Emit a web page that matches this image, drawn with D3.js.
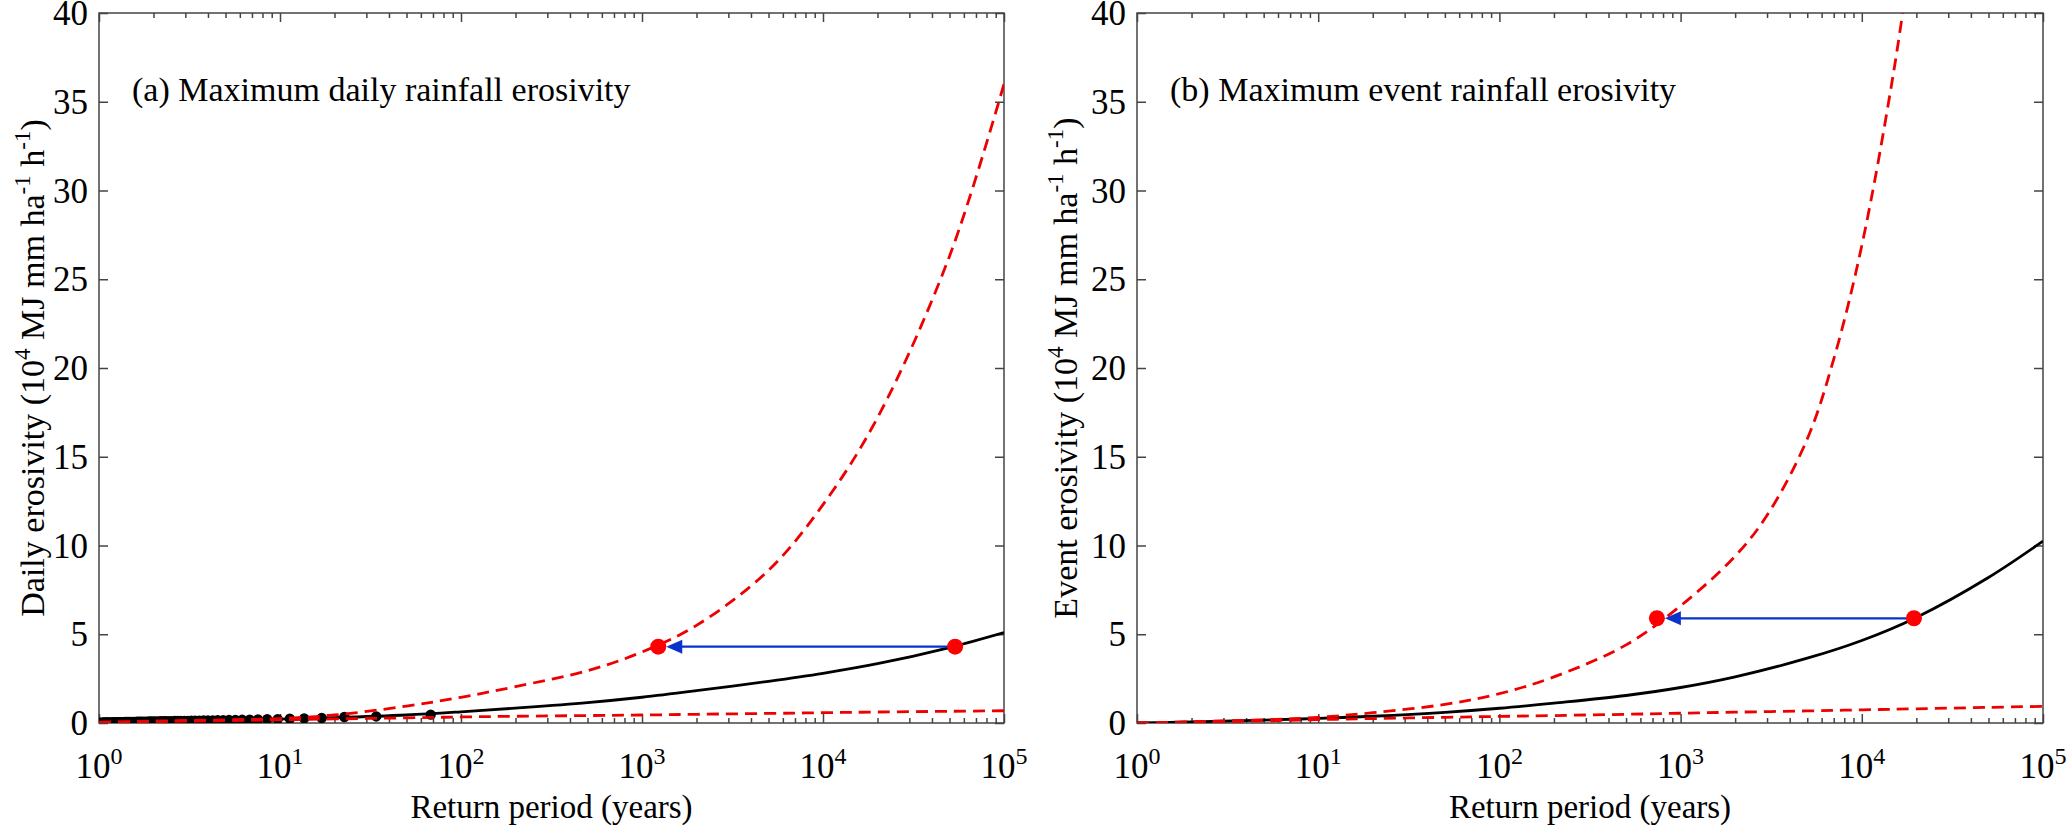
<!DOCTYPE html>
<html>
<head>
<meta charset="utf-8">
<script src="https://cdn.jsdelivr.net/npm/d3@7"></script>
<style>
  body { margin: 0; background: #fff; }
  text { font-family: "Liberation Serif", "Times New Roman", serif; fill: #000; }
</style>
</head>
<body>
<script>
// values (units: 10^4 MJ mm ha-1 h-1)
var yTicks = [0, 5, 10, 15, 20, 25, 30, 35, 40];
var xTickExps = [0, 1, 2, 3, 4, 5];

var fitPeriods = [1, 1.5, 2, 5, 10, 20, 50, 100, 200, 500, 1000, 2000, 5000, 10000, 20000, 50000, 100000];

// (a) daily
var dailyFit   = [0.04, 0.08, 0.11, 0.17, 0.22, 0.30, 0.45, 0.63, 0.84, 1.15, 1.45, 1.82, 2.35, 2.80, 3.34, 4.25, 5.09];
var dailyUpper = [0.05, 0.08, 0.11, 0.18, 0.25, 0.45, 0.95, 1.45, 2.05, 2.95, 4.00, 5.50, 8.60, 12.3, 17.2, 26.3, 36.0];
var dailyLower = [0.03, 0.06, 0.08, 0.13, 0.18, 0.23, 0.29, 0.34, 0.38, 0.42, 0.45, 0.49, 0.54, 0.58, 0.62, 0.66, 0.69];

// observed annual maxima (plotting positions) for (a)
var obsPeriods = [68.00, 34.00, 22.67, 17.00, 13.60, 11.33, 9.71, 8.50, 7.56, 6.80,
  6.18, 5.67, 5.23, 4.86, 4.53, 4.25, 4.00, 3.78, 3.58, 3.40,
  3.24, 3.09, 2.96, 2.83, 2.72, 2.62, 2.52, 2.43, 2.34, 2.27,
  2.19, 2.13, 2.06, 2.00, 1.94, 1.89, 1.84, 1.79, 1.74, 1.70,
  1.66, 1.62, 1.58, 1.55, 1.51, 1.48, 1.45, 1.42, 1.39, 1.36,
  1.33, 1.31, 1.28, 1.26, 1.24, 1.21, 1.19, 1.17, 1.15, 1.13,
  1.11, 1.10, 1.08, 1.06, 1.05, 1.03, 1.01];
var obsDaily = [0.47, 0.37, 0.34, 0.28, 0.26, 0.24, 0.22, 0.21, 0.20, 0.19,
  0.18, 0.17, 0.165, 0.16, 0.155, 0.15, 0.145, 0.14, 0.135, 0.13,
  0.125, 0.12, 0.118, 0.115, 0.112, 0.11, 0.107, 0.104, 0.10, 0.098,
  0.095, 0.092, 0.09, 0.088, 0.085, 0.082, 0.08, 0.078, 0.075, 0.073,
  0.07, 0.068, 0.066, 0.064, 0.062, 0.06, 0.058, 0.056, 0.054, 0.052,
  0.05, 0.048, 0.046, 0.044, 0.042, 0.04, 0.038, 0.036, 0.034, 0.032,
  0.03, 0.028, 0.026, 0.024, 0.022, 0.02, 0.015];

var dailyArrowPeriods = [53700, 1230];
var dailyArrowValues = [4.3, 4.3];

// (b) event
var eventFit   = [0.00, 0.03, 0.06, 0.16, 0.26, 0.38, 0.60, 0.83, 1.12, 1.55, 2.00, 2.60, 3.65, 4.65, 5.95, 8.20, 10.25];
var eventLower = [0.00, 0.03, 0.05, 0.12, 0.19, 0.25, 0.32, 0.37, 0.42, 0.49, 0.55, 0.61, 0.68, 0.74, 0.80, 0.88, 0.94];
var eventUpperPeriods = [1, 1.5, 2, 5, 10, 20, 50, 100, 200, 500, 1000, 2000, 3000, 5000, 7000, 10000, 15000, 20000];
var eventUpper = [0.00, 0.04, 0.07, 0.18, 0.32, 0.58, 1.05, 1.65, 2.60, 4.40, 6.60, 9.40, 11.7, 16.0, 20.5, 26.9, 36.7, 45.5];

var eventArrowPeriods = [19400, 740];
var eventArrowValues = [5.9, 5.9];

window.onload = function() {
    var w = 2067, h = 829;
    var top = 13, bottom = 723;
    var red = "#ee0000", blue = "#0a33cc", axisCol = "#444";

    var svg = d3.select("body").append("svg")
        .attr("width", w)
        .attr("height", h);

    var panels = [
        { id: "a", x0: 99, x1: 1004, labX: 44,
          title: "(a) Maximum daily rainfall erosivity", ylab: "Daily erosivity",
          fit: [fitPeriods, dailyFit], upper: [fitPeriods, dailyUpper], lower: [fitPeriods, dailyLower],
          obs: [obsPeriods, obsDaily], arrow: [dailyArrowPeriods, dailyArrowValues] },
        { id: "b", x0: 1137, x1: 2043, labX: 1077,
          title: "(b) Maximum event rainfall erosivity", ylab: "Event erosivity",
          fit: [fitPeriods, eventFit], upper: [eventUpperPeriods, eventUpper], lower: [fitPeriods, eventLower],
          obs: null, arrow: [eventArrowPeriods, eventArrowValues] }
    ];

    function zip(pair) {
        return pair[0].map(function(t, i) { return { t: t, v: pair[1][i] }; });
    }

    // minor ticks 2..9 per decade
    var minorTicks = [];
    for (var e = 0; e < 5; e++) {
        for (var k = 2; k <= 9; k++) minorTicks.push(k * Math.pow(10, e));
    }
    var majorTicks = xTickExps.map(function(d) { return Math.pow(10, d); });

    panels.forEach(function(p) {
        var x = d3.scaleLog().domain([1, 1e5]).range([p.x0, p.x1]);
        var y = d3.scaleLinear().domain([0, 40]).range([bottom, top]);
        var g = svg.append("g").attr("class", "panel-" + p.id);

        g.append("clipPath").attr("id", "clip-" + p.id)
            .append("rect")
            .attr("x", p.x0).attr("y", top)
            .attr("width", p.x1 - p.x0).attr("height", bottom - top);

        // ticks (inward, all four sides)
        function styleAxis(sel) {
            sel.select(".domain").remove();
            sel.selectAll(".tick line").attr("stroke", axisCol).attr("stroke-width", 1.5);
            sel.selectAll(".tick text").remove();
        }
        g.append("g").attr("transform", "translate(0," + bottom + ")")
            .call(d3.axisBottom(x).tickValues(majorTicks).tickSize(-9)).call(styleAxis);
        g.append("g").attr("transform", "translate(0," + bottom + ")")
            .call(d3.axisBottom(x).tickValues(minorTicks).tickSize(-5)).call(styleAxis);
        g.append("g").attr("transform", "translate(0," + top + ")")
            .call(d3.axisTop(x).tickValues(majorTicks).tickSize(-9)).call(styleAxis);
        g.append("g").attr("transform", "translate(0," + top + ")")
            .call(d3.axisTop(x).tickValues(minorTicks).tickSize(-5)).call(styleAxis);
        g.append("g").attr("transform", "translate(" + p.x0 + ",0)")
            .call(d3.axisLeft(y).tickValues(yTicks).tickSize(-9)).call(styleAxis);
        g.append("g").attr("transform", "translate(" + p.x1 + ",0)")
            .call(d3.axisRight(y).tickValues(yTicks).tickSize(-9)).call(styleAxis);

        // box
        g.append("rect")
            .attr("x", p.x0).attr("y", top)
            .attr("width", p.x1 - p.x0).attr("height", bottom - top)
            .attr("fill", "none").attr("stroke", axisCol).attr("stroke-width", 1.5);

        // y tick labels
        g.selectAll(".ylab").data(yTicks).enter().append("text")
            .attr("x", p.x0 - 11)
            .attr("y", function(d) { return y(d) + 12; })
            .attr("text-anchor", "end")
            .style("font-size", "35px")
            .text(function(d) { return d; });

        // x tick labels 10^n
        var xl = g.selectAll(".xlab").data(xTickExps).enter().append("text")
            .attr("x", function(d) { return x(Math.pow(10, d)); })
            .attr("y", 778)
            .attr("text-anchor", "middle")
            .style("font-size", "35px");
        xl.append("tspan").text("10");
        xl.append("tspan").attr("dy", -14).style("font-size", "24px").text(function(d) { return d; });

        // x axis title
        g.append("text")
            .attr("x", (p.x0 + p.x1) / 2).attr("y", 818)
            .attr("text-anchor", "middle")
            .style("font-size", "33px")
            .text("Return period (years)");

        // y axis title with superscripts
        var yt = g.append("text")
            .attr("transform", "translate(" + p.labX + "," + ((top + bottom) / 2) + ") rotate(-90)")
            .attr("text-anchor", "middle")
            .style("font-size", "34px");
        yt.append("tspan").text(p.ylab + " (10");
        yt.append("tspan").attr("dy", -14).style("font-size", "23px").text("4");
        yt.append("tspan").attr("dy", 14).text(" MJ mm ha");
        yt.append("tspan").attr("dy", -14).style("font-size", "23px").text("-1");
        yt.append("tspan").attr("dy", 14).text(" h");
        yt.append("tspan").attr("dy", -14).style("font-size", "23px").text("-1");
        yt.append("tspan").attr("dy", 14).text(")");

        // panel title
        g.append("text")
            .attr("x", p.x0 + 33).attr("y", 101)
            .style("font-size", "34px")
            .text(p.title);

        // curves
        var line = d3.line()
            .x(function(d) { return x(d.t); })
            .y(function(d) { return y(d.v); })
            .curve(d3.curveCatmullRom.alpha(0.5));

        var plot = g.append("g").attr("clip-path", "url(#clip-" + p.id + ")");

        plot.append("path").datum(zip(p.fit))
            .attr("d", line)
            .attr("fill", "none").attr("stroke", "#000").attr("stroke-width", 2.8);

        if (p.obs) {
            plot.selectAll(".obs").data(zip(p.obs)).enter().append("circle")
                .attr("cx", function(d) { return x(d.t); })
                .attr("cy", function(d) { return y(d.v); })
                .attr("r", 5.2)
                .attr("fill", "#000");
        }

        [p.upper, p.lower].forEach(function(s) {
            plot.append("path").datum(zip(s))
                .attr("d", line)
                .attr("fill", "none").attr("stroke", red)
                .attr("stroke-width", 2.8)
                .attr("stroke-dasharray", "12,7");
        });

        // shift arrow between the two return periods
        var pts = zip(p.arrow);
        var xa = x(pts[0].t), xb = x(pts[1].t), ya = y(pts[0].v);
        var tipX = xb + 8;
        g.append("line")
            .attr("x1", xa).attr("y1", ya)
            .attr("x2", tipX + 14).attr("y2", ya)
            .attr("stroke", blue).attr("stroke-width", 2.2);
        g.append("path")
            .attr("d", "M" + tipX + "," + ya + "L" + (tipX + 16) + "," + (ya - 7) + "L" + (tipX + 16) + "," + (ya + 7) + "Z")
            .attr("fill", blue);

        g.selectAll(".mark").data(pts).enter().append("circle")
            .attr("cx", function(d) { return x(d.t); })
            .attr("cy", function(d) { return y(d.v); })
            .attr("r", 8)
            .attr("fill", "#ff0000");
    });
};
</script>
</body>
</html>
